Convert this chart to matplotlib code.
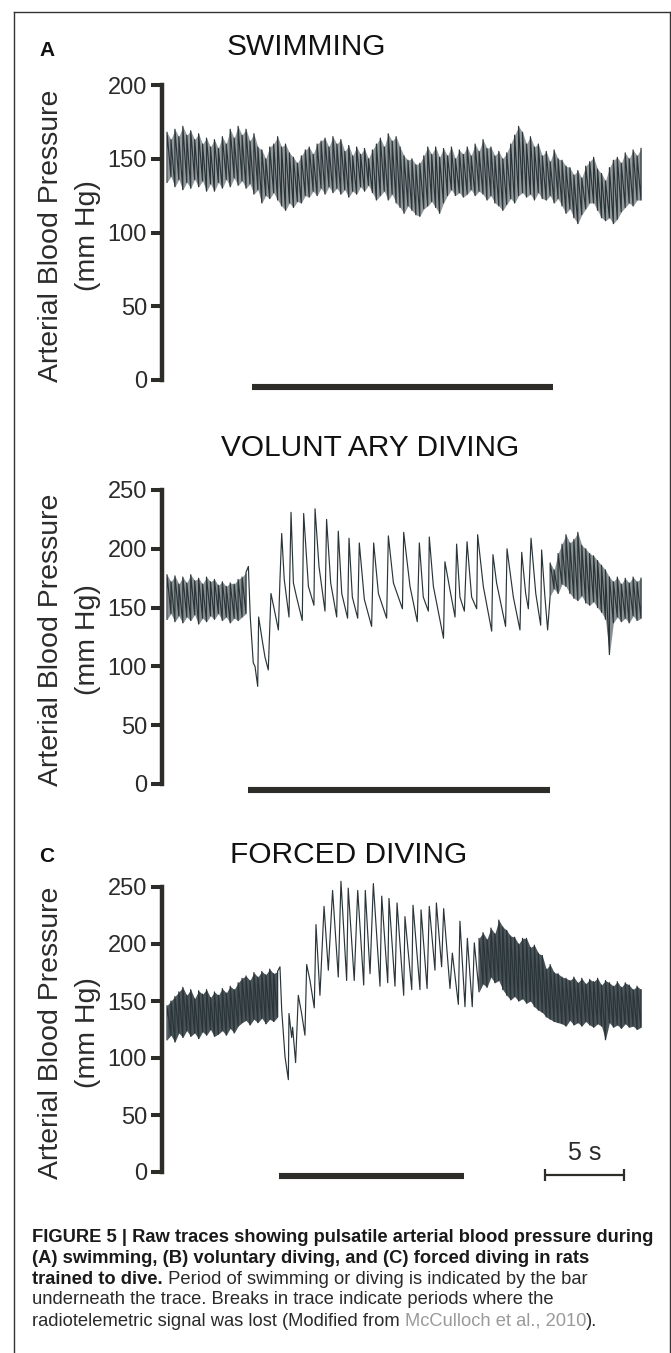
import numpy as np
import matplotlib
matplotlib.use("Agg")
import matplotlib.pyplot as plt
from matplotlib.lines import Line2D

# ------------------------------------------------------------------ data
BEAT_STEP = 0.25          # s between digitised beats in the dense parts

# Panel A - swimming (dense trace, beats from t = 0 s)
A_start = 0.0
A_peak = [168, 163, 170, 165, 172, 166, 169, 163, 167, 160, 164, 158,
          163, 157, 165, 160, 170, 164, 172, 166, 170, 162, 167, 158,
          156, 150, 158, 160, 165, 158, 160, 154, 151, 147, 152, 156,
          158, 153, 160, 162, 164, 158, 165, 160, 163, 155, 159, 152,
          158, 153, 157, 150, 156, 160, 164, 158, 167, 162, 165, 158,
          152, 149, 150, 146, 147, 152, 158, 153, 158, 151, 157, 152,
          158, 150, 156, 153, 158, 152, 160, 155, 163, 157, 158, 152,
          155, 150, 154, 160, 166, 172, 168, 160, 165, 158, 160, 152,
          155, 148, 156, 150, 149, 145, 144, 139, 142, 137, 145, 148,
          151, 143, 140, 135, 144, 149, 151, 147, 154, 150, 156, 152, 157]
A_trough = [134, 138, 131, 136, 129, 134, 130, 136, 131, 135, 128, 133,
            128, 134, 130, 136, 131, 137, 132, 135, 130, 133, 126, 129,
            120, 125, 123, 127, 122, 118, 115, 120, 117, 121, 120, 125,
            124, 128, 125, 130, 126, 131, 127, 130, 126, 129, 124, 128,
            126, 131, 128, 132, 127, 122, 125, 128, 122, 126, 120, 117,
            113, 118, 115, 112, 111, 116, 118, 121, 117, 113, 120, 125,
            129, 125, 127, 124, 126, 129, 125, 128, 126, 122, 125, 120,
            118, 115, 119, 123, 120, 125, 127, 124, 126, 122, 127, 123,
            122, 125, 120, 123, 118, 113, 116, 110, 106, 112, 116, 120,
            120, 115, 110, 108, 110, 106, 109, 114, 117, 120, 118, 122, 122]

# Panel B - voluntary diving
B_pre_start = 0.0
B_pre_peak = [178, 172, 177, 170, 176, 171, 178, 173, 175, 170, 176, 172,
              174, 169, 172, 168, 171, 170, 174, 176, 180]
B_pre_trough = [140, 145, 138, 143, 137, 142, 139, 144, 136, 141, 138, 143,
                140, 145, 139, 142, 137, 141, 139, 142, 145]
B_dive_t = [5.15, 5.27, 5.46, 5.57, 5.74, 5.80, 6.03, 6.20, 6.41, 6.58,
            6.75, 7.05, 7.15, 7.26, 7.42, 7.72, 7.85, 8.00, 8.20, 8.56,
            8.65, 8.95, 9.30, 9.37, 9.62, 10.00, 10.10, 10.36, 10.74, 10.84,
            11.06, 11.43, 11.52, 11.73, 12.07, 12.17, 12.49, 12.95, 13.08, 13.38,
            13.90, 14.01, 14.33, 14.90, 14.98, 15.38, 15.84, 15.97, 16.22, 16.54,
            16.60, 16.86, 17.50, 17.59, 17.91, 18.23, 18.33, 18.54, 18.82, 18.99,
            19.28, 19.60, 19.66, 20.02, 20.55, 20.63, 20.86, 21.43, 21.52, 21.92,
            22.34, 22.45, 22.70, 22.87, 23.04, 23.34, 23.65, 23.71, 23.92, 24.09]
B_dive_p = [185, 142, 103, 100, 83, 142, 122, 108, 97, 162,
            151, 131, 174, 213, 174, 142, 231, 171, 159, 139,
            230, 168, 152, 234, 185, 147, 225, 171, 142, 215,
            162, 141, 209, 159, 141, 205, 157, 134, 205, 162,
            141, 211, 171, 149, 214, 168, 138, 205, 159, 147,
            210, 168, 124, 189, 165, 142, 204, 159, 147, 206,
            159, 149, 212, 168, 130, 195, 171, 134, 200, 159,
            131, 197, 162, 149, 209, 162, 135, 199, 159, 131]
B_post_start = 24.25
B_post_peak = [188, 182, 196, 204, 212, 205, 208, 214, 203, 200, 196, 194,
               190, 186, 182, 176, 172, 176, 170, 175, 171, 176, 172, 175]
B_post_trough = [160, 166, 162, 170, 168, 162, 158, 156, 160, 154, 152, 155,
                 150, 146, 140, 110, 137, 142, 138, 141, 137, 143, 139, 141]

# Panel C - forced diving
C_pre_start = 0.0
C_pre_peak = [146, 150, 154, 158, 162, 155, 160, 152, 159, 156, 160, 153,
              158, 155, 161, 157, 163, 160, 166, 170, 172, 168, 175, 171,
              176, 173, 178, 174, 176]
C_pre_trough = [116, 120, 114, 122, 118, 124, 119, 122, 117, 123, 120, 125,
                119, 121, 124, 120, 126, 122, 128, 131, 133, 129, 134, 131,
                135, 130, 134, 132, 136]
C_dive_t = [7.15, 7.26, 7.47, 7.68, 7.72, 7.89, 7.95, 8.14, 8.31, 8.52,
            8.73, 8.84, 9.05, 9.32, 9.43, 9.68, 9.94, 10.21, 10.48, 10.84,
            11.01, 11.37, 11.47, 11.85, 12.07, 12.45, 12.55, 12.85, 13.06, 13.48,
            13.59, 13.97, 14.05, 14.43, 14.56, 14.98, 15.06, 15.49, 15.57, 16.01,
            16.08, 16.46, 16.60, 16.96, 17.05, 17.38, 17.51, 17.91, 18.06, 18.44,
            18.54, 18.86, 19.01, 19.32, 19.45]
C_dive_p = [180, 142, 101, 81, 139, 118, 127, 96, 155, 139,
            120, 182, 168, 144, 217, 155, 233, 177, 247, 171,
            255, 168, 249, 168, 247, 164, 247, 174, 253, 163,
            242, 166, 240, 163, 236, 155, 224, 160, 234, 160,
            230, 161, 233, 177, 236, 180, 231, 161, 192, 147,
            220, 145, 205, 145, 201]
C_post_start = 19.75
C_post_peak = [205, 210, 204, 214, 209, 221, 215, 212, 207, 206,
               200, 205, 205, 197, 199, 192, 190, 178, 182, 175,
               174, 171, 170, 168, 171, 166, 170, 165, 169, 167,
               170, 164, 168, 166, 163, 167, 162, 166, 164, 160,
               163, 160]
C_post_trough = [158, 165, 162, 171, 166, 168, 160, 155, 151, 154,
                 150, 152, 148, 150, 145, 142, 140, 136, 134, 132,
                 131, 130, 128, 133, 129, 131, 128, 132, 129, 127,
                 130, 128, 116, 131, 127, 129, 126, 130, 127, 128,
                 125, 127]

titles = ["SWIMMING", "VOLUNT ARY DIVING", "FORCED DIVING"]
yticks_A = [0, 50, 100, 150, 200]
yticks_BC = [0, 50, 100, 150, 200, 250]
bars = [(5.38, 24.43), (5.13, 24.24), (7.09, 18.80)]   # swim / dive periods (s)
scale_bar = (23.92, 28.92)                               # 5 s
scale_label = "5 s"
ylabel = "Arterial Blood Pressure"
ylabel2 = "(mm Hg)"

# ------------------------------------------------------------------ helpers
W, H, DPI = 671, 1353, 100
FONT = ["Liberation Sans", "DejaVu Sans"]
plt.rcParams["font.family"] = FONT

TRACE = "#2a3539"
AXC = "#2e2c28"
TXT = "#2b2b2b"


def dense(start, peaks, troughs):
    t = start + BEAT_STEP * np.arange(len(peaks))
    x = np.repeat(t, 2)
    y = np.column_stack([troughs, peaks]).ravel()
    return t, x, y


def fx(x):
    return x / W


def fy(y):
    return 1 - y / H


fig = plt.figure(figsize=(W / DPI, H / DPI), dpi=DPI)

# figure frame (open at bottom)
for xs, ys in [([13.5, 13.5], [H, 11.5]), ([13.5, 669.5], [11.5, 11.5]),
               ([669.5, 669.5], [11.5, H])]:
    fig.add_artist(Line2D([fx(v) for v in xs], [fy(v) for v in ys],
                          color="#333333", lw=1.0))

LEFT, RIGHT = 162, 650
T0, PX_PER_S = 167, 15.8
xlim = ((LEFT - T0) / PX_PER_S, (RIGHT - T0) / PX_PER_S)

panels = [
    dict(top=85, bot=380, ymax=200, ticks=yticks_A, title_xy=(306, 47), bar_off=7, fill=0.5),
    dict(top=490, bot=784, ymax=250, ticks=yticks_BC, title_xy=(370, 448), bar_off=6, fill=0.55),
    dict(top=887, bot=1172, ymax=250, ticks=yticks_BC, title_xy=(349, 855), bar_off=4, fill=0.85),
]

segsA = [dense(A_start, A_peak, A_trough) + (A_peak, A_trough)]
segsB = [dense(B_pre_start, B_pre_peak, B_pre_trough) + (B_pre_peak, B_pre_trough),
         dense(B_post_start, B_post_peak, B_post_trough) + (B_post_peak, B_post_trough)]
segsC = [dense(C_pre_start, C_pre_peak, C_pre_trough) + (C_pre_peak, C_pre_trough),
         dense(C_post_start, C_post_peak, C_post_trough) + (C_post_peak, C_post_trough)]
dense_sets = [segsA, segsB, segsC]

xa, ya = segsA[0][1], segsA[0][2]
xb = np.concatenate([segsB[0][1], B_dive_t, segsB[1][1]])
yb = np.concatenate([segsB[0][2], B_dive_p, segsB[1][2]])
xc = np.concatenate([segsC[0][1], C_dive_t, segsC[1][1]])
yc = np.concatenate([segsC[0][2], C_dive_p, segsC[1][2]])
traces = [(xa, ya), (xb, yb), (xc, yc)]

axes = []
for i, p in enumerate(panels):
    ax = fig.add_axes([fx(LEFT), fy(p["bot"]), (RIGHT - LEFT) / W,
                       (p["bot"] - p["top"]) / H])
    ax.set_xlim(*xlim)
    ax.set_ylim(0, p["ymax"])
    for s in ["top", "right", "bottom"]:
        ax.spines[s].set_visible(False)
    ax.spines["left"].set_linewidth(3.2)
    ax.spines["left"].set_color(AXC)
    ax.spines["left"].set_bounds(0, p["ymax"])
    ax.set_xticks([])
    ax.set_yticks(p["ticks"])
    ax.set_yticklabels([str(v) for v in p["ticks"]])
    ax.tick_params(axis="y", direction="out", length=7.9, width=2.9,
                   color=AXC, labelsize=17, labelcolor=TXT, pad=3)
    ax.patch.set_alpha(0)

    # dense segments: band between diastolic and systolic values
    for t, _, _, pk, tr in dense_sets[i]:
        ax.fill_between(t, tr, pk, color=TRACE, alpha=p["fill"], lw=0)

    x, y = traces[i]
    ax.plot(x, y, color=TRACE, lw=0.85, clip_on=False)

    pxv = (p["bot"] - p["top"]) / p["ymax"]   # px per mmHg
    yb_ = -p["bar_off"] / pxv
    ax.plot(bars[i], [yb_, yb_], color=AXC, lw=4.4, solid_capstyle="butt",
            clip_on=False)

    cy = (p["top"] + p["bot"]) / 2 + 3
    fig.text(fx(51), fy(cy), ylabel, rotation=90, ha="center", va="center",
             fontsize=20.5, color=TXT)
    fig.text(fx(88), fy(cy), ylabel2, rotation=90, ha="center", va="center",
             fontsize=20.5, color=TXT)
    fig.text(fx(p["title_xy"][0]), fy(p["title_xy"][1]), titles[i],
             ha="center", va="center", fontsize=21.5, color="#111111")
    axes.append(ax)

# scale bar in panel C
axc = axes[2]
pxv = (1172 - 887) / 250
ys = -3 / pxv
axc.plot(scale_bar, [ys, ys], color=AXC, lw=1.6, clip_on=False,
         solid_capstyle="butt")
for xv in scale_bar:
    axc.plot([xv, xv], [3 / pxv, -9 / pxv], color=AXC, lw=1.6, clip_on=False,
             solid_capstyle="butt")
axc.text(np.mean(scale_bar), 19 / pxv, scale_label, ha="center", va="center",
         fontsize=18, color=TXT)

# panel letters
fig.text(fx(47), fy(50), "A", ha="center", va="center", fontsize=15,
         fontweight="bold", color="#111111")
fig.text(fx(47), fy(856), "C", ha="center", va="center", fontsize=15,
         fontweight="bold", color="#111111")

# caption
caption = [
    [("FIGURE 5 | Raw traces showing pulsatile arterial blood pressure during", "bold", "#1a1a1a")],
    [("(A) swimming, (B) voluntary diving, and (C) forced diving in rats", "bold", "#1a1a1a")],
    [("trained to dive.", "bold", "#1a1a1a"),
     (" Period of swimming or diving is indicated by the bar", "normal", "#2a2a2a")],
    [("underneath the trace. Breaks in trace indicate periods where the", "normal", "#2a2a2a")],
    [("radiotelemetric signal was lost (Modified from ", "normal", "#2a2a2a"),
     ("McCulloch et al., 2010", "normal", "#9a9a9a"),
     (").", "normal", "#2a2a2a")],
]
line_y = [1238, 1258.5, 1279, 1300, 1321]

renderer = fig.canvas.get_renderer()
probe = fig.text(0, 0, caption[0][0][0], fontsize=12, fontweight="bold")
w12 = probe.get_window_extent(renderer).width
probe.remove()
cap_fs = 12 * 620 / w12

for segs, yy in zip(caption, line_y):
    xpos = 32.0
    for txt, wt, col in segs:
        t = fig.text(fx(xpos), fy(yy), txt, ha="left", va="center",
                     fontsize=cap_fs, fontweight=wt, color=col)
        xpos += t.get_window_extent(renderer).width

fig.savefig("out.png", dpi=DPI)
